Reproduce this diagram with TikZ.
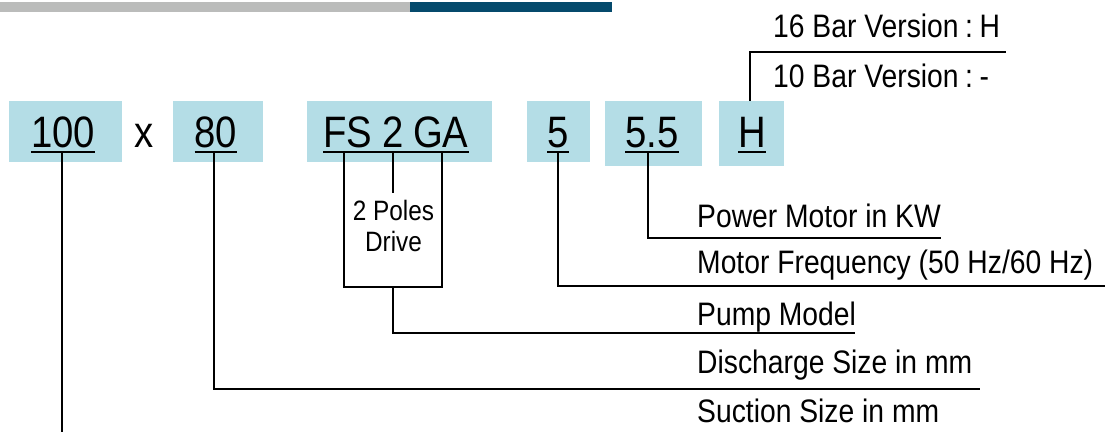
\documentclass[tikz,border=0pt]{standalone}
\usepackage{fontspec}
\setmainfont{Liberation Sans}[FakeStretch=0.87]
\definecolor{boxblue}{HTML}{B4DDE6}
\definecolor{bargray}{HTML}{BBBCBB}
\definecolor{barblue}{HTML}{054A6C}
\begin{document}
\begin{tikzpicture}[x=1pt,y=-1pt,
  codebox/.style={fill=boxblue,draw=none,inner sep=0,minimum height=61pt},
  codetext/.style={inner sep=0,anchor=base,font=\fontsize{44}{50}\selectfont},
  lbl/.style={inner sep=0,anchor=base west,font=\fontsize{32.5}{37}\selectfont},
  conn/.style={line width=2.6pt},
  uline/.style={line width=2.4pt}]
\useasboundingbox (0,0) rectangle (1105,432);
% top bars
\fill[bargray] (0,2) rectangle (410,12);
\fill[barblue] (410,2) rectangle (612,12);
% code boxes
\node[codebox,minimum width=113pt] (b100) at (65.5,131.5) {};
\node[codebox,minimum width=90pt] (b80) at (218,131.5) {};
\node[codebox,minimum width=185pt] (bFS) at (399.5,131.5) {};
\node[codebox,minimum width=63pt] (b5) at (558.5,131.5) {};
\node[codebox,minimum width=97pt,minimum height=65pt] (b55) at (653.5,133.5) {};
\node[codebox,minimum width=65pt,minimum height=65pt] (bH) at (751.5,133.5) {};
% code texts
\node[codetext] (t100) at (63,147) {100};
\node[codetext] (tx) at (144,147) {x};
\node[codetext] (t80) at (216,147) {80};
\node[codetext] (tFS) at (396,147) {FS\hspace{0.22em}2\hspace{0.22em}GA};
\node[codetext] (t5) at (558,147) {5};
\node[codetext] (t55) at (652,147) {5.5};
\node[codetext] (tH) at (752,147) {H};
% underlines
\foreach \n in {t100,t80,tFS,t5,t55,tH}
  \draw[uline] ([yshift=-5pt]\n.base west) -- ([yshift=-5pt]\n.base east);
% labels
\node[lbl] (l16) at (773,37) {16 Bar Version\hspace{0.2em}:\hspace{0.2em}H};
\node[lbl] (l10) at (773,87) {10 Bar Version\hspace{0.2em}:\hspace{0.2em}-};
\node[lbl] (lpow) at (697,227) {Power Motor in KW};
\node[lbl] (lfreq) at (697,273) {Motor Frequency (50 Hz/60 Hz)};
\node[lbl] (lpump) at (697,325) {Pump Model};
\node[lbl] (ldis) at (697,373) {Discharge Size in mm};
\node[lbl] (lsuc) at (697,422) {Suction Size in mm};
\node[inner sep=0,anchor=base,align=center,font=\fontsize{28}{31}\selectfont] (poles) at (393.5,251) {2 Poles\\Drive};
% connector end points
\coordinate (eSuc) at (62,432);
\coordinate (eDis) at (980,389);
\coordinate (legL) at (344,287);
\coordinate (legR) at (442,287);
\coordinate (tick) at (393,193);
\coordinate (mid) at (393,287);
\coordinate (ePump) at (855,333);
\coordinate (eFreq) at (1105,286);
\coordinate (ePow) at (941,238);
\coordinate (eBar) at (1006,52);
\path ([yshift=-5pt]tFS.base) coordinate (uFS);
% connectors
\draw[conn] ([xshift=-1pt,yshift=-5pt]t100.base) -- ([xshift=-1pt]t100.base |- eSuc);
\draw[conn] ([xshift=-2pt,yshift=-5pt]t80.base) |- (eDis);
\draw[conn] (uFS -| legL) -- (legL) -- (legR) -- (uFS -| legR);
\draw[conn] (uFS -| tick) -- (tick);
\draw[conn] (mid) |- (ePump);
\draw[conn] ([yshift=-5pt]t5.base) |- (eFreq);
\draw[conn] ([xshift=-4pt,yshift=-5pt]t55.base) |- (ePow);
\draw[conn] ([xshift=-1.5pt]bH.north) |- (eBar);
\end{tikzpicture}
\end{document}
